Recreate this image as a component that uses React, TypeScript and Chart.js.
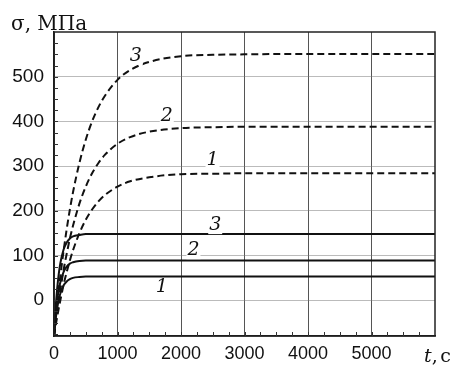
import React, { useEffect, useRef } from "react";
import { Chart, registerables } from "chart.js";

Chart.register(...registerables);

// Time samples, s
const times = [0, 25, 50, 75, 100, 150, 200, 250, 300, 400, 500, 600, 700, 800, 1000, 1200, 1500, 2000, 2500, 3000, 4000, 5000, 6000];

// Stress, MPa — solid curves
const solid1 = [-80, -44, -18, 1, 15, 33, 42, 47, 50, 52, 53, 53, 53, 53, 53, 53, 53, 53, 53, 53, 53, 53, 53];
const solid2 = [-80, -35, -1, 23, 40, 63, 75, 82, 85, 88, 89, 89, 89, 89, 89, 89, 89, 89, 89, 89, 89, 89, 89];
const solid3 = [-80, -19, 26, 59, 83, 113, 129, 138, 143, 146, 148, 148, 148, 148, 148, 148, 148, 148, 148, 148, 148, 148, 148];

// Stress, MPa — dashed curves
const dashed1 = [-80, -58, -37, -18, 0, 34, 63, 89, 112, 150, 180, 203, 221, 235, 254, 266, 275, 282, 283, 284, 284, 284, 284];
const dashed2 = [-80, -52, -25, 0, 23, 67, 104, 138, 167, 216, 254, 284, 307, 325, 350, 365, 377, 385, 387, 388, 388, 388, 388];
const dashed3 = [-80, -43, -9, 24, 54, 109, 159, 203, 242, 307, 359, 400, 432, 457, 493, 515, 533, 546, 549, 550, 551, 551, 551];

// Axis labels
const xMajor = [0, 1000, 2000, 3000, 4000, 5000];
const yMajor = [0, 100, 200, 300, 400, 500];

// Curve numbers: [text, t, sigma]
const curveLabels: [string, number, number][] = [
  ["3", 1290, 547],
  ["2", 1776, 412],
  ["1", 2496, 314],
  ["3", 2539, 168],
  ["2", 2196, 112],
  ["1", 1697, 29],
];

const toPoints = (vals: number[]) => vals.map((v, i) => ({ x: times[i], y: v }));

const annotations = {
  id: "annotations",
  afterDraw(chart: any) {
    const { ctx, chartArea, scales } = chart;
    const xs = scales.x;
    const ys = scales.y;
    ctx.save();

    // frame
    ctx.strokeStyle = "#222";
    ctx.lineWidth = 1.5;
    ctx.strokeRect(chartArea.left, chartArea.top, chartArea.right - chartArea.left, chartArea.bottom - chartArea.top);

    // inner minor ticks
    ctx.strokeStyle = "#333";
    ctx.lineWidth = 1;
    ctx.beginPath();
    for (let v = -75; v < 600; v += 25) {
      const y = Math.round(ys.getPixelForValue(v)) + 0.5;
      ctx.moveTo(chartArea.left, y);
      ctx.lineTo(chartArea.left + 4, y);
    }
    for (let t = 250; t < 6000; t += 250) {
      const x = Math.round(xs.getPixelForValue(t)) + 0.5;
      ctx.moveTo(x, chartArea.bottom);
      ctx.lineTo(x, chartArea.bottom - 4);
    }
    ctx.stroke();

    // curve numbers
    ctx.font = "italic 19px 'DejaVu Serif'";
    ctx.textAlign = "center";
    ctx.textBaseline = "middle";
    for (const [txt, t, s] of curveLabels) {
      const x = xs.getPixelForValue(t);
      const y = ys.getPixelForValue(s);
      ctx.fillStyle = "#fff";
      ctx.fillRect(x - 7, y - 9, 14, 18);
      ctx.fillStyle = "#111";
      ctx.fillText(txt, x, y);
    }

    // axis titles
    ctx.fillStyle = "#111";
    ctx.textAlign = "left";
    ctx.textBaseline = "alphabetic";
    ctx.font = "20px 'DejaVu Serif'";
    ctx.fillText("σ, МПа", 11, 30);
    ctx.font = "italic 19px 'DejaVu Serif'";
    ctx.fillText("t", 424, 362);
    const tw = ctx.measureText("t").width;
    ctx.font = "19px 'DejaVu Serif'";
    ctx.fillText(",", 424 + tw, 362);
    ctx.textAlign = "right";
    ctx.fillText("с", 451, 362);
    ctx.restore();
  },
};

export default function App() {
  const ref = useRef<HTMLCanvasElement | null>(null);

  useEffect(() => {
    if (!ref.current) return;
    const solid = (vals: number[]) => ({
      data: toPoints(vals),
      borderColor: "#111",
      borderWidth: 2,
      pointRadius: 0,
      fill: false,
      cubicInterpolationMode: "monotone" as const,
    });
    const dashed = (vals: number[]) => ({
      ...solid(vals),
      borderDash: [7, 4],
    });

    const chart = new Chart(ref.current, {
      type: "line",
      data: {
        datasets: [solid(solid1), solid(solid2), solid(solid3), dashed(dashed1), dashed(dashed2), dashed(dashed3)],
      },
      options: {
        animation: false,
        responsive: false,
        maintainAspectRatio: false,
        layout: { padding: { top: 32, right: 17, left: 0, bottom: 0 } },
        plugins: { legend: { display: false }, tooltip: { enabled: false } },
        scales: {
          x: {
            type: "linear",
            min: 0,
            max: 6000,
            afterBuildTicks: (s: any) => {
              s.ticks = xMajor.map((v) => ({ value: v }));
            },
            afterFit: (s: any) => {
              s.height = 31;
            },
            ticks: {
              color: "#111",
              font: { family: "Arial, 'Liberation Sans'", size: 18 },
              padding: 7,
              maxRotation: 0,
              autoSkip: false,
              callback: (v: any) => String(v),
            },
            grid: { color: "#555", lineWidth: 1, drawTicks: false },
            border: { color: "#111", width: 1.5 },
          },
          y: {
            type: "linear",
            min: -80,
            max: 600,
            afterBuildTicks: (s: any) => {
              s.ticks = yMajor.map((v) => ({ value: v }));
            },
            afterFit: (s: any) => {
              s.width = 54;
            },
            ticks: {
              color: "#111",
              font: { family: "Arial, 'Liberation Sans'", size: 19 },
              padding: 10,
              autoSkip: false,
              callback: (v: any) => String(v),
            },
            grid: { color: "#777", lineWidth: 1, drawTicks: false },
            border: { color: "#111", width: 1.5, dash: [1, 1] },
          },
        },
      },
      plugins: [annotations],
    });
    return () => chart.destroy();
  }, []);

  return (
    <div style={{ position: "fixed", left: 0, top: 0, width: 452, height: 367, background: "#fff" }}>
      <canvas ref={ref} width={452} height={367} />
    </div>
  );
}
